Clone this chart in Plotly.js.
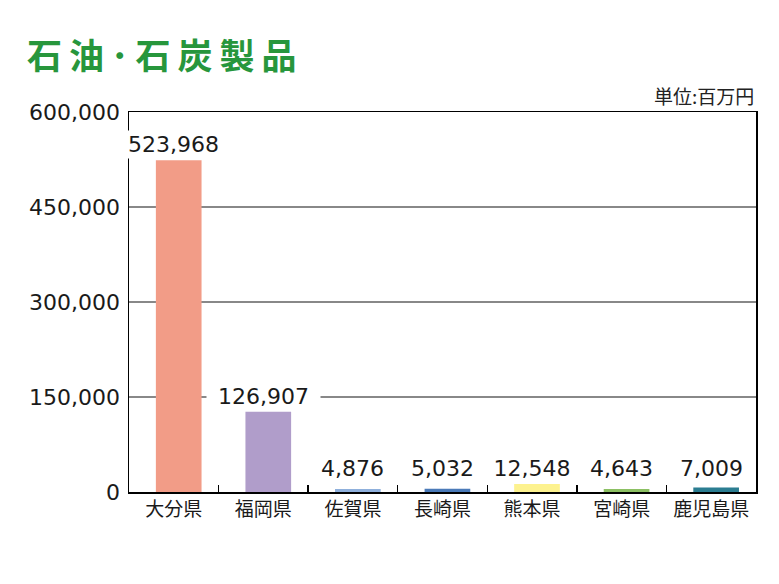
<!DOCTYPE html>
<html>
<head>
<meta charset="utf-8">
<script src="https://cdn.plot.ly/plotly-3.0.1.min.js"></script>
<style>
  body { margin: 0; background: #fff; }
  .gtitle { letter-spacing: 7px; }
</style>
</head>
<body>
<div id="chart" style="width:779px;height:584px;"></div>
<script>
// 石油・石炭製品 出荷額（百万円）
const prefectures = ['大分県', '福岡県', '佐賀県', '長崎県', '熊本県', '宮崎県', '鹿児島県'];
const values = [523968, 126907, 4876, 5032, 12548, 4643, 7009];
const barColors = ['#f29c87', '#b09dca', '#8fb0dc', '#4a7ab8', '#fdf28f', '#8cc063', '#2b7d91'];
const yTicks = [0, 150000, 300000, 450000, 600000];

const numFont = 'DejaVu Sans, Liberation Sans, sans-serif';
const jpFont = 'Noto Sans CJK JP, sans-serif';

const trace = {
    type: 'bar',
    x: prefectures,
    y: values,
    width: 0.51,
    offset: -0.2,
    marker: { color: barColors, line: { width: 0 } },
    hoverinfo: 'skip'
};

// value labels sit on a white box that hides the grid behind them
const labels = values.map((v, i) => {
    const txt = v.toLocaleString('en-US');
    return {
        x: prefectures[i],
        y: Math.max(v, 13000),
        xref: 'x',
        yref: 'y',
        text: txt,
        showarrow: false,
        yanchor: 'bottom',
        yshift: 1,
        bgcolor: '#ffffff',
        width: txt.length * 13 + 20,
        borderpad: 1,
        font: { family: numFont, size: 22, color: '#1a1a1a' }
    };
});

labels.push({
    xref: 'paper',
    yref: 'paper',
    x: 1,
    y: 1,
    xanchor: 'right',
    yanchor: 'bottom',
    yshift: 1,
    text: '単位:百万円',
    showarrow: false,
    font: { family: jpFont, size: 19, color: '#222' }
});

const layout = {
    width: 779,
    height: 584,
    paper_bgcolor: '#ffffff',
    plot_bgcolor: '#ffffff',
    showlegend: false,
    margin: { l: 129, r: 23, t: 112, b: 92 },
    title: {
        text: '石油･石炭製品',
        x: 27 / 779,
        xref: 'container',
        xanchor: 'left',
        y: 1 - 57 / 584,
        yref: 'container',
        yanchor: 'middle',
        font: { family: jpFont, size: 35, color: '#27963c', weight: 'bold' }
    },
    xaxis: {
        type: 'category',
        range: [-0.5, prefectures.length - 0.5],
        showline: true,
        linecolor: '#000',
        linewidth: 1.5,
        mirror: true,
        ticks: 'inside',
        tickson: 'boundaries',
        ticklen: 7,
        tickwidth: 1.5,
        tickcolor: '#000',
        showgrid: false,
        tickfont: { family: jpFont, size: 19, color: '#1a1a1a' }
    },
    yaxis: {
        range: [0, 600000],
        tickvals: yTicks,
        tickformat: ',d',
        showline: true,
        linecolor: '#000',
        linewidth: 1.5,
        mirror: true,
        ticks: '',
        ticklabelstandoff: 3,
        showgrid: true,
        gridcolor: '#888',
        gridwidth: 1.5,
        zeroline: false,
        tickfont: { family: numFont, size: 22, color: '#1a1a1a' }
    },
    annotations: labels
};

Plotly.newPlot('chart', [trace], layout, { displayModeBar: false, staticPlot: true });
</script>
</body>
</html>
